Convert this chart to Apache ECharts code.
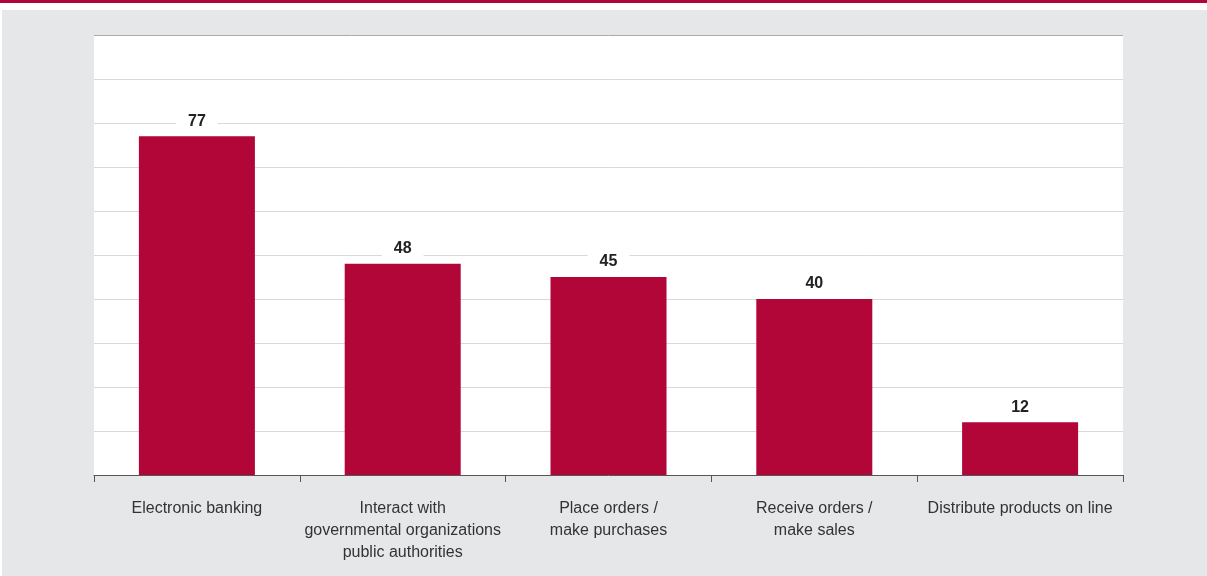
<!DOCTYPE html>
<html>
<head>
<meta charset="utf-8">
<script src="https://cdn.jsdelivr.net/npm/echarts@6/dist/echarts.min.js"></script>
<style>
  html, body { margin: 0; padding: 0; background: #fff; }
  #topline { position: absolute; left: 0; top: 0; width: 1207px; height: 3px; background: #b0063a; }
  #panel { position: absolute; left: 2px; top: 10px; width: 1205px; height: 566px; background: #e6e7e9; }
  #chart { position: absolute; left: 0; top: 0; width: 1207px; height: 576px; }
</style>
</head>
<body>
<div id="topline"></div>
<div id="panel"></div>
<div id="chart"></div>
<script>
// usage shares, %
var categories = [
  'Electronic banking',
  'Interact with\ngovernmental organizations\npublic authorities',
  'Place orders /\nmake purchases',
  'Receive orders /\nmake sales',
  'Distribute products on line'
];
var values = [77, 48, 45, 40, 12];

var font = '"Liberation Sans Narrow", "Liberation Sans", Arial, sans-serif';
var gridColors = ['#d9d9d9', '#d9d9d9', '#d9d9d9', '#d9d9d9', '#d9d9d9',
                  '#d9d9d9', '#d9d9d9', '#d9d9d9', '#d9d9d9', '#d9d9d9', '#a9abad'];

var chart = echarts.init(document.getElementById('chart'));
chart.setOption({
  animation: false,
  grid: {
    left: 94, right: 84, top: 35, bottom: 101,
    show: true, backgroundColor: '#fff', borderWidth: 0
  },
  xAxis: {
    type: 'category',
    data: categories,
    axisLine: { lineStyle: { color: '#555', width: 1 } },
    axisTick: { show: true, length: 7, lineStyle: { color: '#555' } },
    axisLabel: {
      color: '#333', fontFamily: font, fontSize: 16, lineHeight: 22,
      margin: 23, interval: 0
    }
  },
  yAxis: {
    type: 'value',
    min: 0, max: 100, interval: 10,
    axisLabel: { show: false },
    axisLine: { show: false },
    axisTick: { show: false },
    splitLine: { lineStyle: { color: gridColors, width: 1 } }
  },
  series: [{
    type: 'bar',
    data: values,
    barWidth: 116,
    itemStyle: { color: '#b20538' },
    label: {
      show: true,
      position: 'top',
      distance: 7,
      color: '#222',
      fontFamily: font,
      fontWeight: 'bold',
      fontSize: 16,
      backgroundColor: '#fff',
      padding: [2, 12, 0, 12]
    }
  }]
});
</script>
</body>
</html>
